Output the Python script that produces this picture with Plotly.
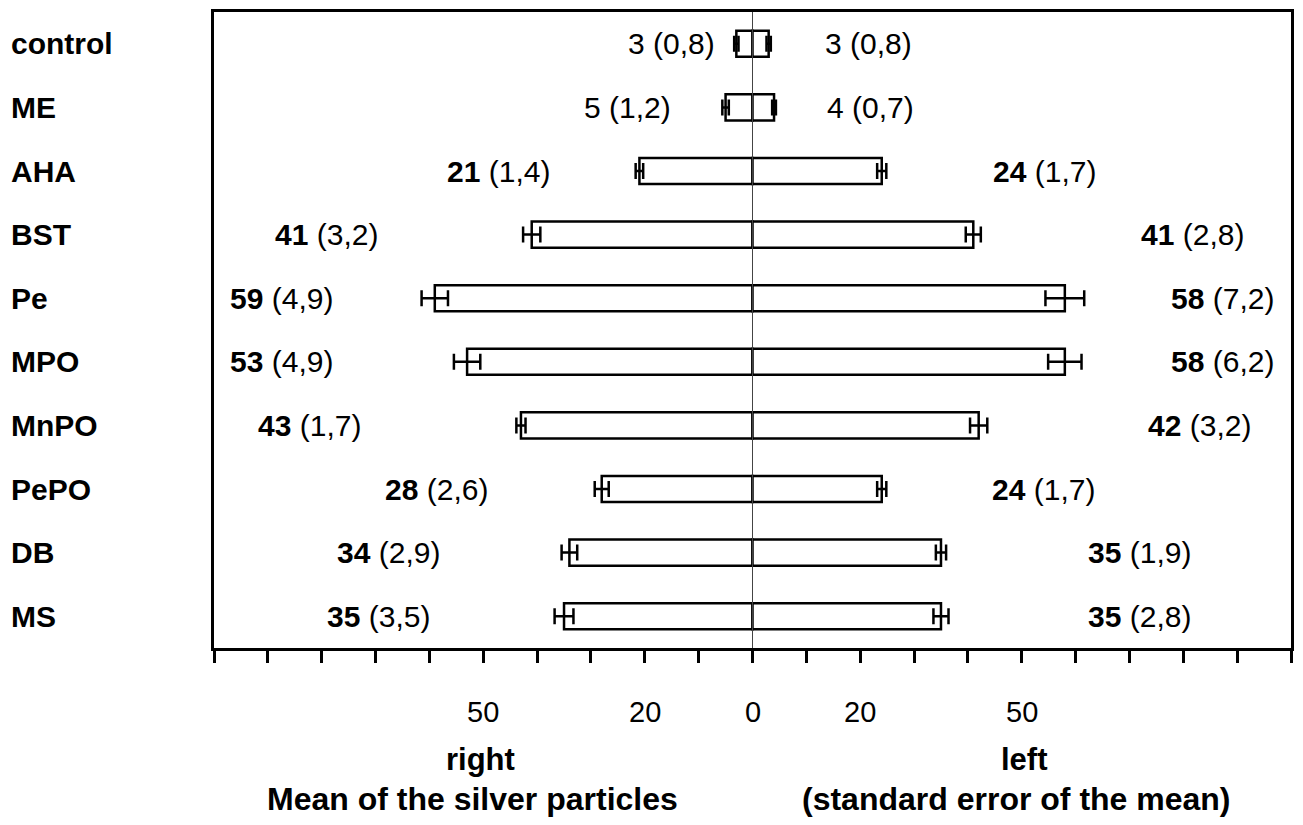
import plotly.graph_objects as go

# ---------------- data ----------------
categories = ["control", "ME", "AHA", "BST", "Pe", "MPO", "MnPO", "PePO", "DB", "MS"]
# "right" side (drawn to the left of zero)
right_mean = [3, 5, 21, 41, 59, 53, 43, 28, 34, 35]
right_se = [0.8, 1.2, 1.4, 3.2, 4.9, 4.9, 1.7, 2.6, 2.9, 3.5]
# "left" side (drawn to the right of zero)
left_mean = [3, 4, 24, 41, 58, 58, 42, 24, 35, 35]
left_se = [0.8, 0.7, 1.7, 2.8, 7.2, 6.2, 3.2, 1.7, 1.9, 2.8]
bold_numbers = [False, False, True, True, True, True, True, True, True, True]

tick_vals = [-50, -20, 0, 20, 50]
tick_text = ["50", "20", "0", "20", "50"]

# ---------------- layout constants ----------------
FONT = "Liberation Sans, Arial, sans-serif"
FS = 30
OFF = 8  # browser body margin
W, H = 1303 - 2 * OFF, 825 - 2 * OFF
PLOT_BOTTOM = 648  # page px
ML, MT = 214 - OFF, 11 - OFF
MR = 1
MB = H - (PLOT_BOTTOM - OFF)
# x positions (data units) of the value labels
right_label_x = [-15.1, -23.2, -47.1, -79.2, -87.5, -87.5, -82.2, -58.6, -67.6, -69.5]
left_label_x = [21.5, 21.9, 54.2, 81.8, 87.3, 87.3, 83.1, 54.0, 71.9, 71.9]

plot_h = H - MT - MB
plot_w = W - ML - MR


def fmt(m, se, bold):
    n = f"<b>{m}</b>" if bold else f"{m}"
    return f"{n} ({se:.1f})".replace(".", ",")


def ypaper(page_px):
    fig_px = page_px - OFF
    return (H - MB - fig_px) / plot_h


def xpaper(page_px):
    fig_px = page_px - OFF
    return (fig_px - ML) / plot_w


fig = go.Figure()

bar_common = dict(
    orientation="h",
    width=0.41,
    marker=dict(color="white", line=dict(color="black", width=2.5)),
    hoverinfo="skip",
)

fig.add_trace(go.Bar(
    y=categories, x=[-m for m in right_mean],
    error_x=dict(type="data", array=[s / 2 for s in right_se], symmetric=True,
                 color="black", thickness=2.5, width=8),
    **bar_common,
))
fig.add_trace(go.Bar(
    y=categories, x=left_mean,
    error_x=dict(type="data", array=[s / 2 for s in left_se], symmetric=True,
                 color="black", thickness=2.5, width=8),
    **bar_common,
))

annotations = []
for i, c in enumerate(categories):
    annotations.append(dict(x=right_label_x[i], y=c, xref="x", yref="y",
                            text=fmt(right_mean[i], right_se[i], bold_numbers[i]),
                            showarrow=False, xanchor="center", yanchor="middle",
                            font=dict(family=FONT, size=FS, color="black")))
    annotations.append(dict(x=left_label_x[i], y=c, xref="x", yref="y",
                            text=fmt(left_mean[i], left_se[i], bold_numbers[i]),
                            showarrow=False, xanchor="center", yanchor="middle",
                            font=dict(family=FONT, size=FS, color="black")))
    annotations.append(dict(x=xpaper(8), y=c, xref="paper", yref="y",
                            text=f"<b>{c}</b>", showarrow=False,
                            xanchor="left", yanchor="middle",
                            font=dict(family=FONT, size=FS, color="black")))

for v, t in zip(tick_vals, tick_text):
    annotations.append(dict(x=v, y=ypaper(712), xref="x", yref="paper", text=t,
                            showarrow=False, xanchor="center", yanchor="middle",
                            font=dict(family=FONT, size=FS - 1, color="black")))

for x, t, ypx, fs in [(-50.5, "<b>right</b>", 760, FS + 1), (50.5, "<b>left</b>", 760, FS + 1),
                      (-52.0, "<b>Mean of the silver particles</b>", 799, FS + 2),
                      (49.0, "<b>(standard error of the mean)</b>", 799, FS + 2)]:
    annotations.append(dict(x=x, y=ypaper(ypx), xref="x", yref="paper", text=t,
                            showarrow=False, xanchor="center", yanchor="middle",
                            font=dict(family=FONT, size=fs, color="black")))

fig.update_layout(
    width=W, height=H,
    margin=dict(l=ML, r=MR, t=MT, b=MB, pad=0),
    paper_bgcolor="white", plot_bgcolor="white",
    barmode="overlay",
    showlegend=False,
    annotations=annotations,
    shapes=[dict(type="line", x0=0, x1=0, xref="x", y0=0, y1=1, yref="paper",
                 line=dict(color="#444444", width=1), layer="above")],
    xaxis=dict(range=[-100, 100], tickmode="linear", tick0=0, dtick=10,
               showticklabels=False, ticks="outside", ticklen=12, tickwidth=2.5,
               tickcolor="black", showline=True, linecolor="black", linewidth=2.5,
               mirror=True, showgrid=False, zeroline=False, fixedrange=True),
    yaxis=dict(type="category", range=[9.5, -0.5], showticklabels=False,
               ticks="", showline=True, linecolor="black", linewidth=2.5,
               mirror=True, showgrid=False, zeroline=False, fixedrange=True),
)

fig.write_html("out.html")
